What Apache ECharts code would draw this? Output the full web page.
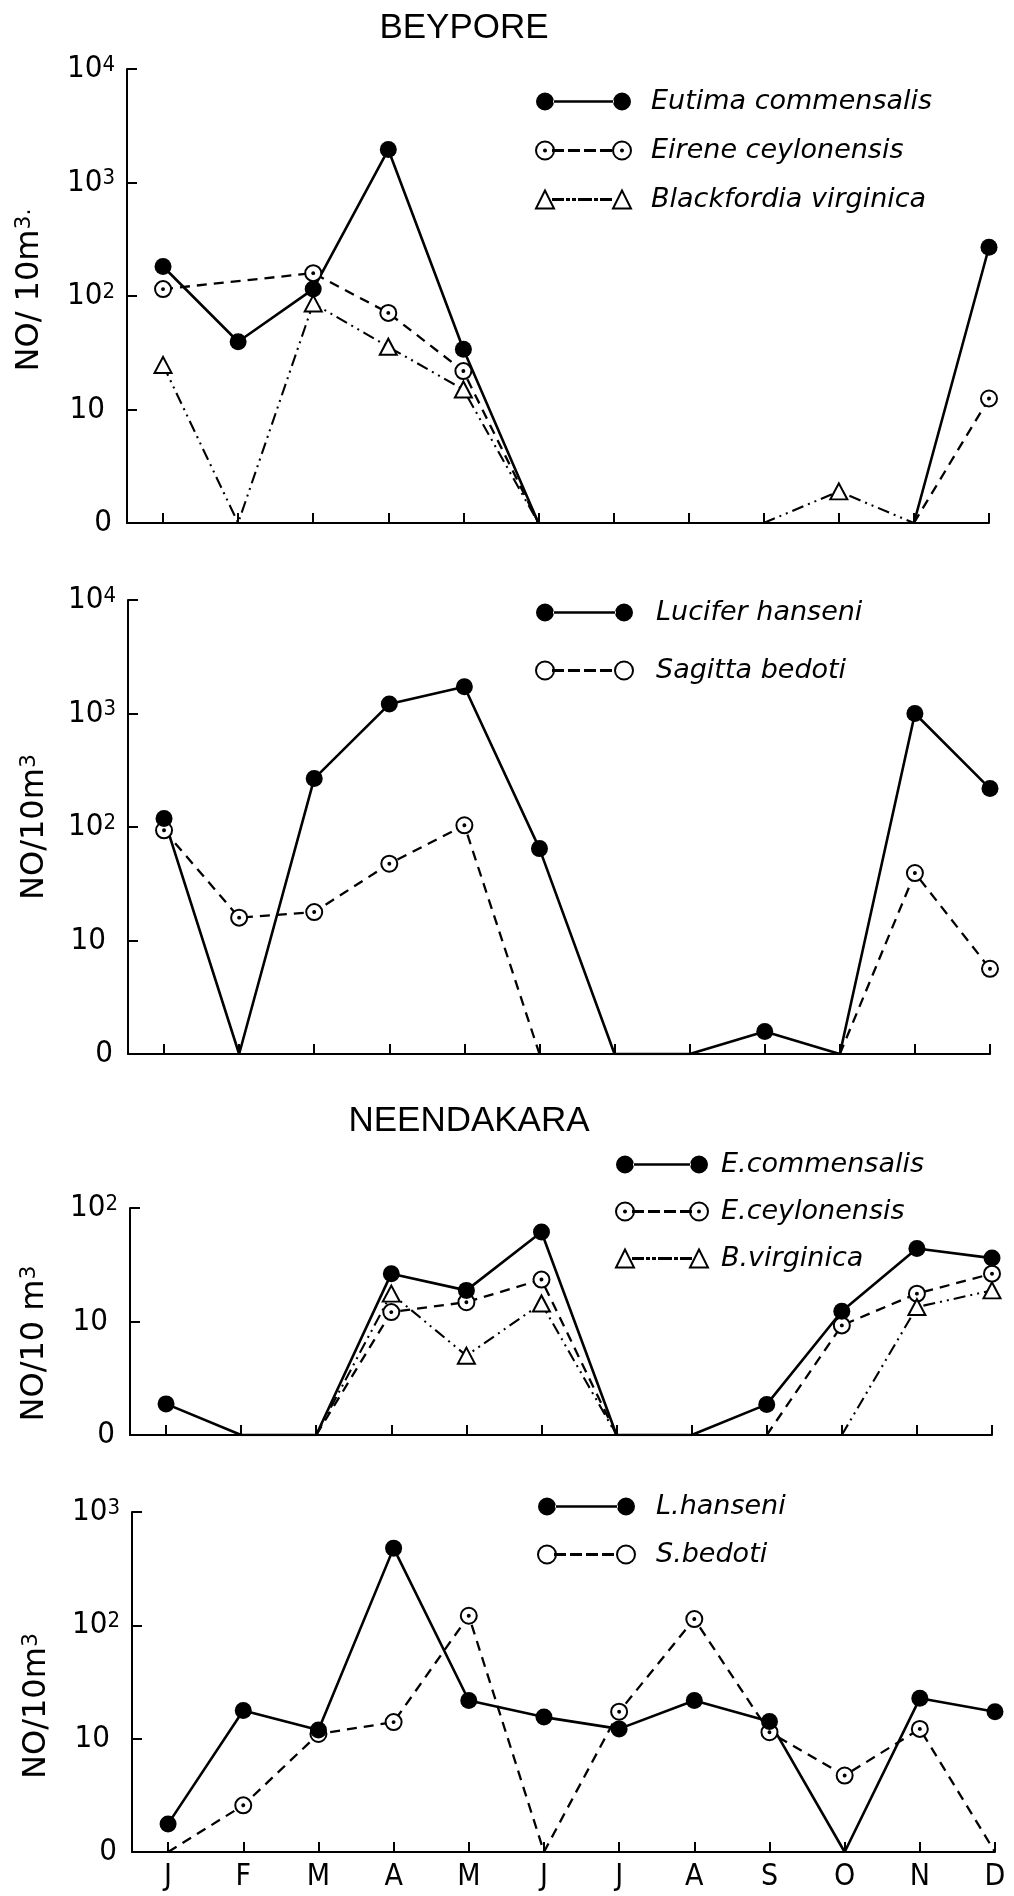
<!DOCTYPE html>
<html>
<head>
<meta charset="utf-8">
<title>Beypore and Neendakara – monthly abundance</title>
<script src="https://cdn.jsdelivr.net/npm/echarts@6/dist/echarts.min.js"></script>
<style>
  html, body { margin: 0; padding: 0; background: #fff; }
  #chart { width: 1014px; height: 1896px; }
</style>
</head>
<body>
<div id="chart"></div>
<script>
// ---- data: numbers per 10 m3, one entry per month; 0 = none caught, null = not plotted
const months = ['J', 'F', 'M', 'A', 'M', 'J', 'J', 'A', 'S', 'O', 'N', 'D'];

// Beypore, medusae
const beyEutima      = [182, 39.5, 115, 1950, 34, 0, null, null, null, null, 0, 269];
const beyEirene      = [115, null, 159, 71, 21.8, 0, null, null, null, null, 0, 12.5];
const beyBlackfordia = [24.7, 0, 86, 35.7, 15, 0, null, null, 0, 1.9, 0, null];
// Beypore, Lucifer / Sagitta
const beyLucifer = [118.6, 0, 267, 1210, 1720, 64.5, 0, 0, 1.58, 0, 1000, 218];
const beySagitta = [93.5, 15.9, 17.8, 47.5, 103.5, 0, null, null, null, 0, 39.3, 5.63];
// Neendakara, medusae
const neeEutima      = [1.88, 0, 0, 26.4, 18.8, 61.4, 0, 0, 1.86, 12.3, 43.9, 36.2];
const neeEirene      = [null, null, 0, 12.1, 14.8, 23.4, 0, null, 0, 9.24, 17.6, 26.4];
const neeBlackfordia = [null, null, 0, 17.6, 5.0, 14.4, 0, null, null, 0, 13.4, 18.8];
// Neendakara, Lucifer / Sagitta
const neeLucifer = [1.77, 17.7, 11.9, 480, 21.7, 15.5, 12.2, 21.7, 14.2, 0, 22.7, 17.3];
const neeSagitta = [0, 2.58, 11, 14.0, 121.5, 0, 17.3, 113.7, 11.4, 4.73, 12.2, 0];

// upper end of each log axis
const axisTops = [10000, 10000, 100, 1000];
const stationTitles = ['BEYPORE', 'NEENDAKARA'];

// ---- styling helpers
const NARROW = "'Liberation Sans Narrow', 'DejaVu Sans Condensed', 'Liberation Sans', sans-serif";
const SANS = "'Liberation Sans', Arial, sans-serif";
const ITALIC = "'DejaVu Sans', 'Liberation Sans', sans-serif";
const FLOOR = 1;               // the log axis floor, labelled "0"
const monthIdx = months.map((m, i) => i);

function circlePath(cx, cy, r) {
  return `M${cx - r},${cy}A${r},${r},0,1,0,${cx + r},${cy}A${r},${r},0,1,0,${cx - r},${cy}Z`;
}
function trianglePath(cx, h, w) {
  return `M${cx - w / 2},${h}L${cx},0L${cx + w / 2},${h}Z`;
}
function barPath(x0, x1, y, t) {
  return `M${x0},${y - t / 2}H${x1}V${y + t / 2}H${x0}Z`;
}
// legend key: marker, connecting line in the series' dash pattern, marker
function legendIcon(w, h, marker, pattern, dot, thick) {
  const r = h / 2;
  let p = '';
  const mk = (cx) => {
    if (marker === 'tri') return trianglePath(cx, h, h);
    let s = circlePath(cx, r, r);
    if (dot) s += circlePath(cx, r, 1);
    return s;
  };
  p += mk(r) + mk(w - r);
  const x0 = 2 * r - 1, x1 = w - 2 * r + 1;
  let x = x0, k = 0, on = true;
  while (x < x1) {
    const len = pattern[k % pattern.length];
    const end = Math.min(x + len, x1);
    if (on) p += barPath(x, end, r, thick);
    x = end; k++; on = !on;
  }
  return 'path://' + p;
}

const DOT_RING = 'path://' + circlePath(9, 9, 9) + circlePath(9, 9, 1.1);
const MARK = {
  filled: { symbol: 'circle', symbolSize: 17, itemStyle: { color: '#000' } },
  dotted: { symbol: DOT_RING, symbolSize: 16, itemStyle: { color: '#fff', borderColor: '#000', borderWidth: 2 } },
  tri: { symbol: 'triangle', symbolSize: [17, 16], itemStyle: { color: '#fff', borderColor: '#000', borderWidth: 2 } }
};
const LINE = {
  solid: { color: '#000', width: 2.6, type: 'solid' },
  dashed: { color: '#000', width: 2.3, type: [10, 7] },
  dashdot: { color: '#000', width: 2.1, type: [12, 5, 2, 5, 2, 5] }
};
const OPEN_KEY = { color: '#fff', borderColor: '#000', borderWidth: 2 };
const FILL_KEY = { color: '#000', borderWidth: 0 };

// months with a count of zero sit on the floor without a marker;
// a gap after a zero breaks the line
function toPoints(values) {
  const pts = [];
  let last = null;
  values.forEach((v, i) => {
    if (v === null) {
      if (last === 0) pts.push([i, '-']);
      return;
    }
    pts.push(v === 0 ? { value: [i, FLOOR], symbol: 'none' } : [i, v]);
    last = v;
  });
  return pts;
}

function decadeLabel(v) {
  const e = Math.round(Math.log10(v));
  if (e === 0) return '{z|0}';
  if (e === 1) return '{p|10}';
  return '{m|10}{s|' + e + '}';
}

// ---- panel layout
const panels = [
  { left: 127, top: 69, width: 862, height: 454, name: '{n|NO/ 10m}{s|3.}', nameGap: 80, namePad: [0, 0, 0, 12] },
  { left: 128, top: 600, width: 862, height: 454, name: '{n|NO/10m}{s|3}', nameGap: 76, namePad: [0, 0, 0, 0] },
  { left: 130, top: 1208, width: 862, height: 227, name: '{n|NO/10 m}{s|3}', nameGap: 78, namePad: [0, 44, 0, 0] },
  { left: 132, top: 1512, width: 863, height: 340, name: '{n|NO/10m}{s|3}', nameGap: 78, namePad: [0, 48, 0, 0] }
];

const grid = panels.map(p => ({
  left: p.left, top: p.top, width: p.width, height: p.height,
  containLabel: false, outerBoundsMode: 'none'
}));

const xAxis = panels.map((p, i) => ({
  gridIndex: i, type: 'value', min: -0.48, max: 11,
  axisLine: { show: true, onZero: false, lineStyle: { color: '#000', width: 2 } },
  axisTick: { show: true, inside: true, length: 10, customValues: monthIdx, lineStyle: { color: '#000', width: 2 } },
  axisLabel: {
    show: i === panels.length - 1, customValues: monthIdx,
    formatter: v => months[Math.round(v)],
    margin: 10, fontSize: 30, fontFamily: NARROW, color: '#000'
  },
  splitLine: { show: false }
}));

const yAxis = panels.map((p, i) => ({
  gridIndex: i, type: 'log', logBase: 10, min: FLOOR, max: axisTops[i],
  axisLine: { show: true, onZero: false, lineStyle: { color: '#000', width: 2 } },
  axisTick: { show: true, inside: true, length: 10, lineStyle: { color: '#000', width: 2 } },
  splitLine: { show: false },
  axisLabel: {
    margin: 12, color: '#000', formatter: decadeLabel,
    rich: {
      m: { fontSize: 31, lineHeight: 30, fontFamily: NARROW, color: '#000' },
      p: { fontSize: 31, lineHeight: 30, fontFamily: NARROW, color: '#000', padding: [0, 10, 0, 0] },
      z: { fontSize: 31, lineHeight: 30, fontFamily: NARROW, color: '#000', padding: [0, 3, 0, 0] },
      s: { fontSize: 22, lineHeight: 14, verticalAlign: 'top', fontFamily: NARROW, color: '#000' }
    }
  },
  name: p.name, nameLocation: 'middle', nameGap: p.nameGap,
  nameTextStyle: {
    padding: p.namePad,
    rich: {
      n: { fontSize: 32, lineHeight: 34, fontFamily: "'DejaVu Sans', sans-serif", color: '#000' },
      s: { fontSize: 22, lineHeight: 16, verticalAlign: 'top', fontFamily: "'DejaVu Sans', sans-serif", color: '#000' }
    }
  }
}));

function line(name, panel, values, mark, style) {
  return Object.assign({
    name, type: 'line', xAxisIndex: panel, yAxisIndex: panel,
    data: toPoints(values), lineStyle: style, connectNulls: false,
    showSymbol: true, animation: false, emphasis: { disabled: true }
  }, MARK[mark]);
}

const series = [
  line('Eirene ceylonensis', 0, beyEirene, 'dotted', LINE.dashed),
  line('Blackfordia virginica', 0, beyBlackfordia, 'tri', LINE.dashdot),
  line('Eutima commensalis', 0, beyEutima, 'filled', LINE.solid),
  line('Sagitta bedoti', 1, beySagitta, 'dotted', LINE.dashed),
  line('Lucifer hanseni', 1, beyLucifer, 'filled', LINE.solid),
  line('E.ceylonensis', 2, neeEirene, 'dotted', LINE.dashed),
  line('B.virginica', 2, neeBlackfordia, 'tri', LINE.dashdot),
  line('E.commensalis', 2, neeEutima, 'filled', LINE.solid),
  line('S.bedoti', 3, neeSagitta, 'dotted', LINE.dashed),
  line('L.hanseni', 3, neeLucifer, 'filled', LINE.solid)
];

const DASH_KEY = [10, 6];
const DASHDOT_KEY = [10, 4, 2, 4, 2, 4, 12, 4, 2, 4];
function legendBlock(left, top, w, gap, textPad, items) {
  return {
    orient: 'vertical', left, top, padding: 0, itemGap: gap,
    itemWidth: w, itemHeight: 18, selectedMode: false,
    textStyle: { fontFamily: ITALIC, fontStyle: 'italic', fontSize: 27, lineHeight: 18, color: '#000', padding: [0, 0, 0, textPad] },
    data: items.map(([name, kind, dot]) => {
      if (kind === 'solid') return { name, icon: legendIcon(w, 18, 'circle', [1000], false, 2.5), itemStyle: FILL_KEY };
      if (kind === 'dashed') return { name, icon: legendIcon(w, 18, 'circle', DASH_KEY, dot, 1), itemStyle: OPEN_KEY };
      return { name, icon: legendIcon(w, 18, 'tri', DASHDOT_KEY, false, 1), itemStyle: OPEN_KEY };
    })
  };
}

const legend = [
  legendBlock(535, 88, 95, 22, 15, [
    ['Eutima commensalis', 'solid'], ['Eirene ceylonensis', 'dashed', true], ['Blackfordia virginica', 'dashdot']
  ]),
  legendBlock(535, 599, 97, 31, 18, [
    ['Lucifer hanseni', 'solid'], ['Sagitta bedoti', 'dashed', false]
  ]),
  legendBlock(615, 1151, 92, 20, 8, [
    ['E.commensalis', 'solid'], ['E.ceylonensis', 'dashed', true], ['B.virginica', 'dashdot']
  ]),
  legendBlock(537, 1493, 97, 21, 16, [
    ['L.hanseni', 'solid'], ['S.bedoti', 'dashed', false]
  ])
];

const graphic = [
  { type: 'text', x: 464, y: 28, style: { text: stationTitles[0], fontSize: 35, fontFamily: SANS, fill: '#000', align: 'center', verticalAlign: 'middle' } },
  { type: 'text', x: 469, y: 1121, style: { text: stationTitles[1], fontSize: 35, fontFamily: SANS, fill: '#000', align: 'center', verticalAlign: 'middle' } }
];

const chart = echarts.init(document.getElementById('chart'), null, { renderer: 'canvas' });
chart.setOption({
  animation: false,
  backgroundColor: '#fff',
  grid, xAxis, yAxis, series, legend, graphic
});
</script>
</body>
</html>
